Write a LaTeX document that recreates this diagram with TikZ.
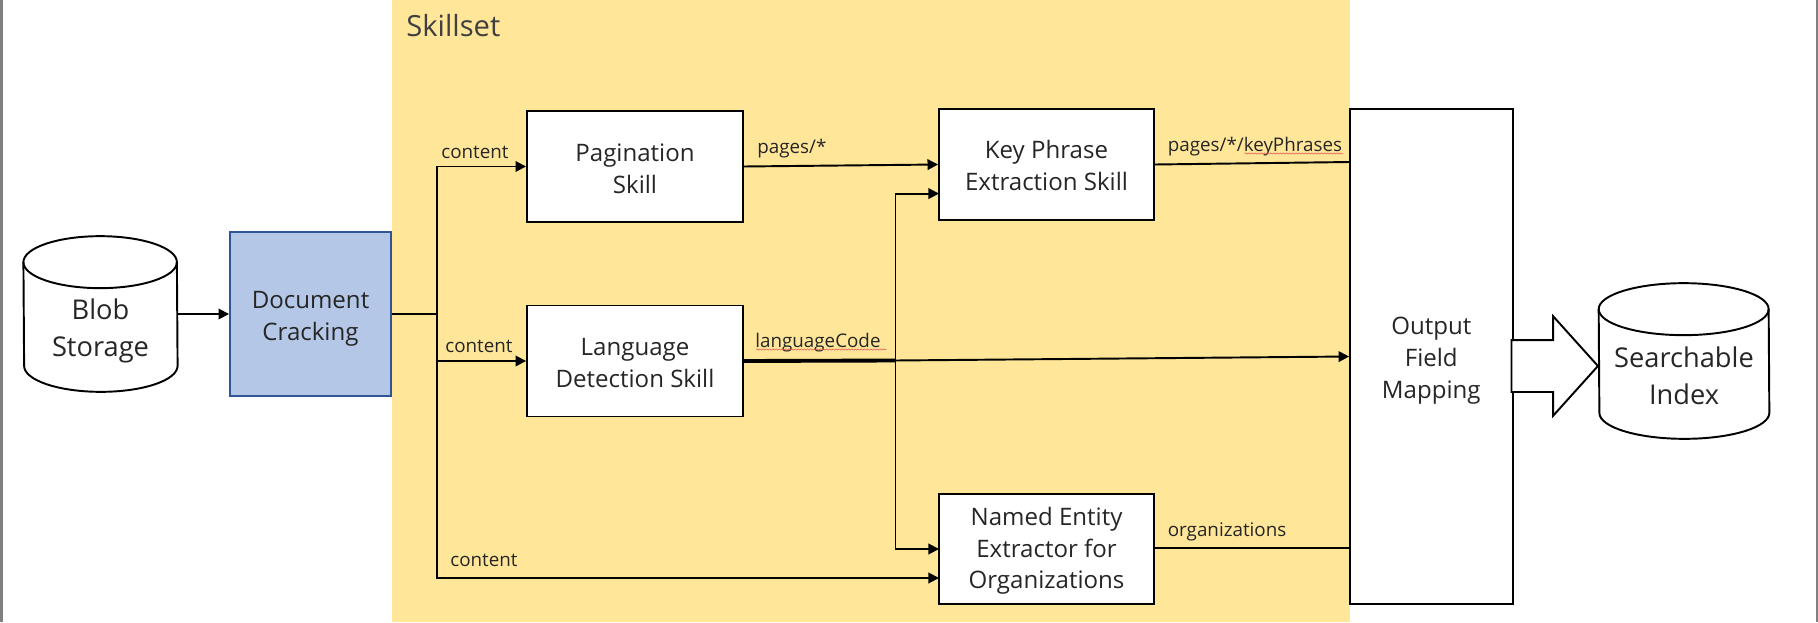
\documentclass[tikz,border=0pt]{standalone}
\usepackage{fontspec}
\setmainfont{Open Sans}
\usetikzlibrary{arrows.meta,calc,shapes.arrows,decorations.pathmorphing}
\definecolor{skillfill}{HTML}{FFE699}
\definecolor{crackfill}{HTML}{B4C7E7}
\definecolor{crackline}{HTML}{2F5597}
\definecolor{inktext}{HTML}{262626}
\definecolor{edgegray}{HTML}{808080}
\definecolor{spellred}{HTML}{E0605A}
\newcommand{\dropline}[1]{\rule{0pt}{#1}}
\newcommand{\storedrum}[3]{%
    \draw[wire] ($(#1.north west)-(0,#3)$) arc[start angle=180, end angle=0, x radius=#2, y radius=#3]
        -- ($(#1.south east)+(0,#3)$) arc[start angle=0, end angle=-180, x radius=#2, y radius=#3] -- cycle;
    \draw[wire] ($(#1.north west)-(0,#3)$) arc[start angle=180, end angle=360, x radius=#2, y radius=#3];
}
\tikzset{
    wire/.style={draw=black, line width=1.1pt},
    arrowwire/.style={wire, -{Triangle[length=6pt,width=6pt]}},
    skillbox/.style={draw=black, fill=white, line width=1.1pt, align=center, inner sep=0pt,
        text=inktext, font=\fontsize{13.7}{18.2}\selectfont},
    storebox/.style={align=center, inner sep=0pt, text=inktext, minimum height=3.1cm,
        font=\fontsize{15.5}{21}\selectfont},
    fieldlabel/.style={anchor=base west, inner sep=0pt, text=inktext, font=\fontsize{10.7}{13}\selectfont},
    spellmark/.style={draw=spellred, line width=0.35pt, decorate,
        decoration={snake, amplitude=0.35pt, segment length=1.8pt}}
}
\begin{document}
\begin{tikzpicture}[x=0.02cm, y=-0.02cm]
    \useasboundingbox (0,0) rectangle (1818,622);
    \fill[skillfill] (392,0) rectangle (1350,622);
    \fill[edgegray] (0,0) rectangle (3,622);
    \fill[edgegray] (1816,0) rectangle (1818,622);
    \node[anchor=base west, inner sep=0pt, text=black!75, font=\fontsize{16.6}{20}\selectfont] (skillset) at (406,36) {Skillset};

    % boxes
    \node[storebox, minimum width=3.07cm] (blob) at (100.5,314) {\dropline{31.5pt}Blob\\Storage};
    \storedrum{blob}{1.535cm}{0.52cm}
    \node[skillbox, fill=crackfill, draw=crackline, minimum width=3.22cm, minimum height=3.28cm] (crack) at (310.5,314) {\dropline{15pt}Document\\Cracking};
    \node[skillbox, minimum width=4.32cm, minimum height=2.22cm] (pagination) at (635,166.5) {\dropline{12.4pt}Pagination\\Skill};
    \node[skillbox, minimum width=4.32cm, minimum height=2.22cm] (language) at (635,361) {\dropline{12.4pt}Language\\Detection Skill};
    \node[skillbox, minimum width=4.3cm, minimum height=2.22cm] (keyphrase) at (1046.5,164.5) {\dropline{11.6pt}Key Phrase\\Extraction Skill};
    \node[skillbox, minimum width=4.3cm, minimum height=2.2cm] (entity) at (1046.5,549) {\dropline{12.4pt}Named Entity\\Extractor for\\Organizations};
    \node[skillbox, minimum width=3.25cm, minimum height=9.9cm] (mapping) at (1431.3,356.5) {\dropline{15pt}Output\\Field\\Mapping};
    \node[storebox, minimum width=3.4cm] (index) at (1684,361) {\dropline{28.5pt}Searchable\\Index};
    \storedrum{index}{1.7cm}{0.52cm}
    \node[single arrow, draw=black, fill=white, line width=1.1pt, inner xsep=0pt, inner ysep=0.5cm, minimum height=1.73cm, minimum width=1.95cm,
        single arrow head extend=0.475cm, single arrow tip angle=96, single arrow head indent=0pt] (bigarrow) at (1543,366) {};

    % junction points
    \coordinate (trunk) at (437.4,314);
    \coordinate (langsplit) at (895.5,360.5);
    \coordinate (keyin) at (939,193.6);
    \coordinate (entityin) at (939,549);
    \coordinate (contentin) at (939,578);
    \coordinate (keyout) at (1350,162);
    \coordinate (entityout) at (1350,548);

    % connectors
    \draw[arrowwire] (blob.east |- crack.west) -- (crack.west);
    \draw[wire] (crack.east) -- (trunk);
    \draw[arrowwire] (trunk) |- (pagination.west);
    \draw[arrowwire] (trunk) |- (language.west);
    \draw[arrowwire] (trunk) |- (contentin);
    \draw[arrowwire] (pagination.east) -- (keyphrase.west);
    \draw[wire, line width=2.2pt] (language.east) -- (langsplit);
    \draw[arrowwire] (langsplit) |- (keyin);
    \draw[arrowwire] (langsplit) |- (entityin);
    \draw[arrowwire] (langsplit) -- (mapping.west);
    \draw[wire] (keyphrase.east) -- (keyout);
    \draw[wire] (entity.east |- entityout) -- (entityout);

    % labels
    \node[fieldlabel] (contenta) at (441,158) {content};
    \node[fieldlabel] (contentb) at (445,352) {content};
    \node[fieldlabel] (contentc) at (450,566) {content};
    \node[fieldlabel] (pages) at (757,153.6) {pages/*};
    \node[fieldlabel] (langcode) at (755,347) {languageCode};
    \node[fieldlabel] (phrases) at (1167.5,151) {pages/*/keyPhrases};
    \node[fieldlabel] (orgs) at (1167.5,536) {organizations};

    % spell check marks
    \draw[spellmark] (756,349.5) -- (886,349.5);
    \draw[spellmark] (1244.5,153.5) -- (1343,153.5);
\end{tikzpicture}
\end{document}
